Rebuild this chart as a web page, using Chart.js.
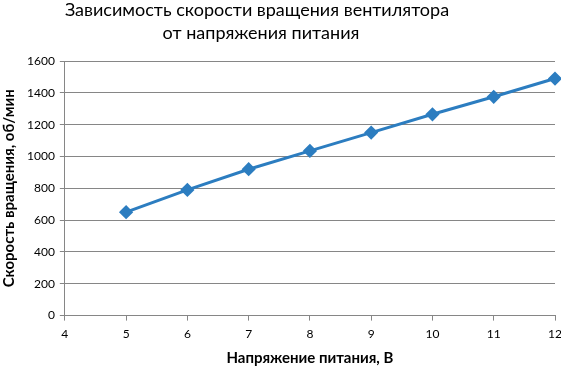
<!DOCTYPE html>
<html>
<head>
<meta charset="utf-8">
<script src="https://cdn.jsdelivr.net/npm/chart.js@4"></script>
<style>
  html, body { margin: 0; padding: 0; background: #fff; }
  #wrap { width: 561px; height: 369px; position: relative; }
</style>
</head>
<body>
<div id="wrap"><canvas id="chart"></canvas></div>
<script>
const titleLines = ['Зависимость скорости вращения вентилятора', 'от напряжения питания'];
const voltages = [5, 6, 7, 8, 9, 10, 11, 12];
const speeds = [650, 790, 920, 1035, 1150, 1265, 1375, 1490];
const xTitle = 'Напряжение питания, В';
const yTitle = 'Скорость вращения, об/мин';

const FONT = 'Lato, "Open Sans", sans-serif';
const gray = '#868686';

// title sits left of plot centre in the original, so draw it ourselves
const titlePlugin = {
  id: 'topTitle',
  afterDraw(chart) {
    const ctx = chart.ctx;
    ctx.save();
    ctx.fillStyle = '#000';
    ctx.font = '18px ' + FONT;
    ctx.textAlign = 'center';
    ctx.textBaseline = 'middle';
    ctx.fillText(titleLines[0], 257, 10);
    ctx.fillText(titleLines[1], 261, 33);
    ctx.restore();
  }
};

new Chart(document.getElementById('chart'), {
  type: 'line',
  data: {
    datasets: [{
      data: voltages.map((v, i) => ({ x: v, y: speeds[i] })),
      borderColor: '#2C7DC0',
      backgroundColor: '#2C7DC0',
      borderWidth: 3,
      pointStyle: 'rectRot',
      pointRadius: 5,
      pointHoverRadius: 5,
      tension: 0,
      clip: false
    }]
  },
  options: {
    responsive: true,
    maintainAspectRatio: false,
    animation: false,
    layout: { autoPadding: false, padding: { top: 61, right: 0, left: 0, bottom: 0 } },
    plugins: { legend: { display: false }, tooltip: { enabled: false } },
    scales: {
      x: {
        type: 'linear',
        min: 4, max: 12,
        afterFit(scale) { scale.paddingRight = 6; },
        ticks: { stepSize: 1, color: '#000', font: { family: FONT, size: 12 }, padding: 6 },
        grid: { drawOnChartArea: false, color: gray, tickLength: 5 },
        border: { color: gray },
        title: { display: true, text: xTitle, color: '#000', font: { family: FONT, size: 15, weight: 'bold' }, padding: { top: 2, bottom: 2 } }
      },
      y: {
        min: 0, max: 1600,
        ticks: { stepSize: 200, color: '#000', font: { family: FONT, size: 12 }, padding: 5,
          callback: v => String(v) },
        grid: { color: gray, tickLength: 5 },
        border: { color: gray },
        title: { display: true, text: yTitle, color: '#000', font: { family: FONT, size: 15, weight: 'bold' }, padding: { top: 0, bottom: 4 } }
      }
    }
  },
  plugins: [titlePlugin]
});
</script>
</body>
</html>
